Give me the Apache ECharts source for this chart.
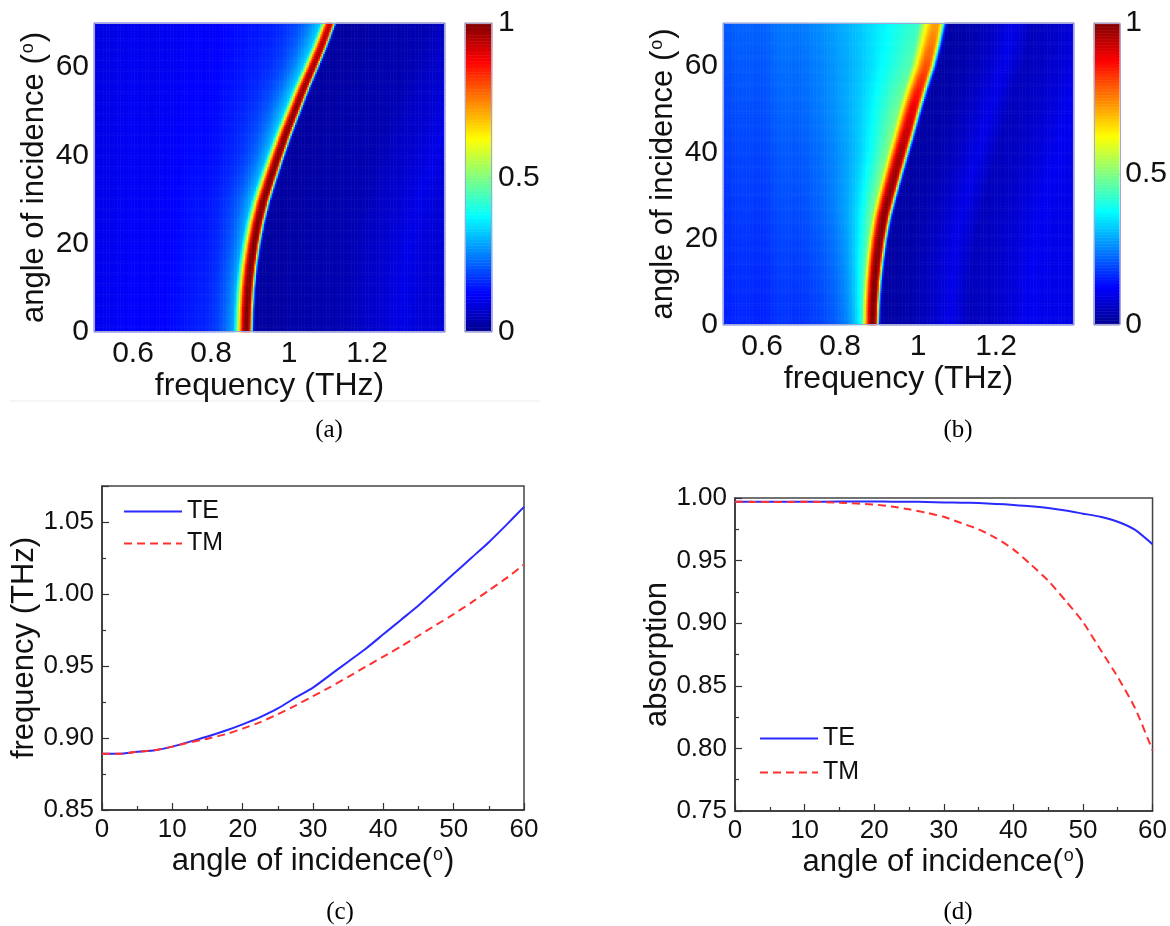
<!DOCTYPE html>
<html><head><meta charset="utf-8">
<script src="https://cdn.jsdelivr.net/npm/echarts@6/dist/echarts.min.js"></script>
<style>html,body{margin:0;padding:0;background:#fff}#c{width:1170px;height:926px}</style>
</head><body><div id="c"></div>
<script>
// ---------------- data ----------------
// (c) resonance frequency vs angle
const anglesFreq = [0,2.5,5,7.5,10,12.5,15,17.5,20,22.5,25,27.5,30,32.5,35,37.5,40,42.5,45,47.5,50,52.5,55,57.5,60];
const freqTE = [0.889,0.889,0.8905,0.8915,0.894,0.8975,0.901,0.905,0.9095,0.9145,0.9205,0.928,0.935,0.944,0.953,0.962,0.972,0.982,0.992,1.003,1.014,1.025,1.036,1.048,1.0605];
const freqTM = [0.889,0.889,0.8905,0.8915,0.894,0.897,0.8995,0.9025,0.9065,0.911,0.9165,0.9225,0.929,0.9355,0.9425,0.9495,0.9565,0.9635,0.971,0.9785,0.986,0.994,1.0025,1.011,1.0205];
// (d) peak absorption vs angle
const anglesAbs = [0,5,10,15,20,22.5,25,27.5,30,32.5,35,37.5,40,42.5,45,47.5,50,52.5,55,57.5,60];
const absTE = [0.997,0.997,0.997,0.9972,0.9972,0.9971,0.997,0.9968,0.9965,0.9963,0.996,0.9953,0.9945,0.9935,0.992,0.990,0.9875,0.985,0.981,0.9745,0.963];
const absTM = [0.997,0.9968,0.997,0.9963,0.9948,0.9932,0.991,0.9882,0.985,0.980,0.975,0.968,0.959,0.947,0.934,0.918,0.901,0.879,0.857,0.832,0.7985];

const angles5 = [0,5,10,15,20,25,30,35,40,45,50,55,60,65,70];
const peakTE = [0.89,0.8915,0.895,0.901,0.9095,0.9205,0.935,0.953,0.972,0.992,1.014,1.036,1.0605,1.084,1.105];
const peakTM = [0.883,0.8845,0.888,0.8935,0.901,0.911,0.925,0.94,0.9555,0.971,0.986,1.0025,1.0205,1.034,1.045];
const angles10 = [0,10,20,30,40,50,60,70];
const ampTE = [1.0,1.0,1.0,0.998,0.995,0.988,0.963,0.93];
const ampTM = [1.0,1.0,0.995,0.985,0.96,0.9,0.8,0.72];
const coreLeftTE = [0.024,0.024,0.024,0.024,0.023,0.022,0.021,0.02];
const coreLeftTM = [0.024,0.025,0.027,0.03,0.033,0.036,0.04,0.045];
const coreRightTE = [0.0163,0.0163,0.016,0.016,0.0155,0.015,0.0145,0.014];
const coreRightTM = [0.016,0.017,0.018,0.019,0.02,0.021,0.022,0.024];
const wingWidthTE = [0.04,0.04,0.04,0.045,0.045,0.05,0.05,0.055];
const wingWidthTM = [0.03,0.035,0.045,0.06,0.075,0.1,0.13,0.17];
const wingAmpTE = [0.3,0.3,0.3,0.3,0.3,0.3,0.3,0.3];
const wingAmpTM = [0.5,0.5,0.48,0.47,0.45,0.44,0.43,0.42];
const bgFreq = [0.5,0.55,0.6,0.65,0.7,0.75,0.8,0.85,0.9,0.95,1.0,1.05,1.1,1.15,1.2,1.25,1.3,1.35,1.4];
const bgLeftTE = [0.105,0.11,0.12,0.115,0.12,0.13,0.125,0.135,0.14,0.14,0.14,0.14,0.14,0.14,0.14,0.14,0.14,0.14,0.14];
const bgLeftTM = [0.15,0.16,0.15,0.17,0.16,0.17,0.18,0.19,0.2,0.2,0.2,0.2,0.2,0.2,0.2,0.2,0.2,0.2,0.2];
const bgOffset = [0,0.05,0.1,0.15,0.2,0.25,0.3,0.35,0.4,0.45,0.5];
const bgRightTE = [0.02,0.02,0.025,0.03,0.035,0.04,0.06,0.075,0.1,0.08,0.08];
const bgRightTM = [0.025,0.025,0.035,0.06,0.1,0.05,0.06,0.08,0.11,0.1,0.1];

// axis tick labels
const freqTicks = [0.6,0.8,1,1.2];
const angleTicks = [0,20,40,60];
const cbarTicks = [0,0.5,1];
const jet = ['#00008f','#0000ff','#0080ff','#00ffff','#80ff80','#ffff00','#ff8000','#ff0000','#800000'];

// ---------------- build heat grids ----------------
const fMin = 0.5, fMax = 1.4, nF = 225, nA = 140, aMax = 70;
const dF = (fMax - fMin) / nF, dA = aMax / nA;
function interp(xs, ys, x) {
  if (x <= xs[0]) return ys[0];
  for (let k = 1; k < xs.length; k++) {
    if (x <= xs[k]) { const t = (x - xs[k-1]) / (xs[k] - xs[k-1]); return ys[k-1] + t * (ys[k] - ys[k-1]); }
  }
  return ys[ys.length - 1];
}
const fCats = [], aCats = [];
for (let i = 0; i < nF; i++) fCats.push((fMin + (i + 0.5) * dF).toFixed(4));
for (let j = 0; j < nA; j++) aCats.push(((j + 0.5) * dA).toFixed(2));
function buildHeat(p, gain) {
  const out = [];
  for (let j = 0; j < nA; j++) {
    const th = (j + 0.5) * dA;
    const f0 = interp(angles5, p.peak, th), A = interp(angles10, p.amp, th);
    const cL = interp(angles10, p.cL, th), cR = interp(angles10, p.cR, th);
    const wW = interp(angles10, p.wW, th), k = interp(angles10, p.wA, th);
    for (let i = 0; i < nF; i++) {
      const f = fMin + (i + 0.5) * dF, d = f - f0;
      let v;
      if (d < 0) {
        const b = interp(bgFreq, p.bgL, f) + gain * th / aMax;
        const s = Math.max(Math.exp(-(d / cL) * (d / cL)), k / (1 + (d / wW) * (d / wW)));
        v = b + (A - b) * s;
      } else {
        const b = interp(bgOffset, p.bgR, d);
        const x = d / cR;
        v = b + (A - b) * Math.exp(-x * x * x * x);
      }
      out.push([i, j, v]);
    }
  }
  return out;
}
const heatA = buildHeat({peak: peakTE, amp: ampTE, cL: coreLeftTE, cR: coreRightTE, wW: wingWidthTE, wA: wingAmpTE, bgL: bgLeftTE, bgR: bgRightTE}, -0.015);
const heatB = buildHeat({peak: peakTM, amp: ampTM, cL: coreLeftTM, cR: coreRightTM, wW: wingWidthTM, wA: wingAmpTM, bgL: bgLeftTM, bgR: bgRightTM}, 0.04);
const nC = 200, cCats = [], cbar = [];
for (let k = 0; k < nC; k++) { cCats.push(String(k)); cbar.push([0, k, (k + 0.5) / nC]); }

// ---------------- layout ----------------
const L = {
  a: {left: 94, top: 23, width: 351, height: 309},
  ca: {left: 465, top: 23, width: 27, height: 309},
  b: {left: 723, top: 23, width: 351, height: 302},
  cb: {left: 1094, top: 23, width: 27, height: 302},
  c: {left: 102, top: 486, width: 422, height: 324},
  d: {left: 735, top: 498, width: 425, height: 313}
};
const SANS = '"Liberation Sans", Arial, sans-serif';
const SERIF = '"Liberation Serif", "Times New Roman", serif';
const deg = {s: {fontSize: 18, fontFamily: SANS, color: '#111', verticalAlign: 'top', padding: [0, 1, 0, 1]}};

function hidden(grid, data) {
  return {type: 'category', gridIndex: grid, data: data, show: false, boundaryGap: true};
}
function heatX(grid, nameGap) {
  return {type: 'value', gridIndex: grid, position: 'bottom', min: fMin, max: fMax,
    axisLine: {show: false}, axisTick: {show: false}, splitLine: {show: false},
    axisLabel: {customValues: freqTicks, fontSize: 30, fontFamily: SANS, color: '#111', margin: 7},
    name: 'frequency (THz)', nameLocation: 'middle', nameGap: nameGap,
    nameTextStyle: {fontSize: 32, fontFamily: SANS, color: '#111'}};
}
function heatY(grid, nameGap) {
  return {type: 'value', gridIndex: grid, position: 'left', min: 0, max: aMax,
    axisLine: {show: false}, axisTick: {show: false}, splitLine: {show: false},
    axisLabel: {customValues: angleTicks, fontSize: 30, fontFamily: SANS, color: '#111', margin: 5},
    name: 'angle of incidence ({s|o})', nameLocation: 'middle', nameGap: nameGap,
    nameTextStyle: {fontSize: 31, fontFamily: SANS, color: '#111', rich: deg}};
}
function cbarY(grid) {
  return {type: 'value', gridIndex: grid, position: 'right', min: 0, max: 1,
    axisLine: {show: false}, axisTick: {show: true, inside: true, length: 4, customValues: [0.5], lineStyle: {color: '#333'}},
    splitLine: {show: false},
    axisLabel: {customValues: cbarTicks, fontSize: 30, fontFamily: SANS, color: '#111', margin: 6}};
}
function lineX(grid) {
  return {type: 'value', gridIndex: grid, min: 0, max: 60, interval: 10,
    axisLine: {lineStyle: {color: '#333', width: 1.5}},
    axisTick: {inside: true, length: 7, lineStyle: {color: '#333', width: 1.2}},
    minorTick: {show: true, splitNumber: 2, length: 4, lineStyle: {color: '#333', width: 1.2}},
    splitLine: {show: false},
    axisLabel: {fontSize: 26, fontFamily: SANS, color: '#111', margin: 7},
    name: 'angle of incidence({s|o})', nameLocation: 'middle', nameGap: 36,
    nameTextStyle: {fontSize: 31, fontFamily: SANS, color: '#111', rich: deg}};
}
function lineY(grid, min, max, name, gap) {
  return {type: 'value', gridIndex: grid, min: min, max: max, interval: 0.05,
    axisLine: {lineStyle: {color: '#333', width: 1.5}},
    axisTick: {inside: true, length: 7, lineStyle: {color: '#333', width: 1.2}},
    minorTick: {show: true, splitNumber: 2, length: 4, lineStyle: {color: '#333', width: 1.2}},
    splitLine: {show: false},
    axisLabel: {fontSize: 26, fontFamily: SANS, color: '#111', margin: 8, showMaxLabel: max === 1.0,
      formatter: v => v.toFixed(2)},
    name: name, nameLocation: 'middle', nameGap: gap,
    nameTextStyle: {fontSize: 31, fontFamily: SANS, color: '#111'}};
}
function pairs(xs, ys) { return xs.map((x, i) => [x, ys[i]]); }
function frame(r, color, w) {
  return {type: 'rect', z: 100, silent: true, shape: {x: r.left + 0.5, y: r.top + 0.5, width: r.width - 1, height: r.height - 1},
    style: {fill: null, stroke: color, lineWidth: w}};
}
function caption(txt, x, y) {
  return {type: 'text', x: x, y: y, silent: true, style: {text: txt, font: '25px ' + SERIF, fill: '#000', align: 'center', verticalAlign: 'middle'}};
}

const teStyle = {color: '#2a2aff', width: 2};
const tmStyle = {color: '#ff3030', width: 2, type: [8, 5]};
function lineSeries(name, xi, yi, data, style) {
  return {type: 'line', name: name, xAxisIndex: xi, yAxisIndex: yi, data: data, symbol: 'none',
    smooth: 0.2, lineStyle: style, itemStyle: {color: style.color}, silent: true};
}
function legendAt(left, top, gap) {
  return {left: left, top: top, itemGap: gap, orient: 'vertical', itemWidth: 58, itemHeight: 14,
    data: ['TE', 'TM'], selectedMode: false, itemStyle: {opacity: 0},
    textStyle: {fontSize: 25, fontFamily: SANS, color: '#111'}};
}

const option = {
  animation: false,
  backgroundColor: '#ffffff',
  grid: [
    Object.assign({show: false}, L.a),
    Object.assign({show: false}, L.ca),
    Object.assign({show: false}, L.b),
    Object.assign({show: false}, L.cb),
    Object.assign({show: true, borderColor: '#444', borderWidth: 1.5, backgroundColor: '#fff'}, L.c),
    Object.assign({show: true, borderColor: '#444', borderWidth: 1.5, backgroundColor: '#fff'}, L.d)
  ],
  xAxis: [
    hidden(0, fCats),      // 0
    heatX(0, 36),          // 1
    hidden(1, ['c']),      // 2
    hidden(2, fCats),      // 3
    heatX(2, 33),          // 4
    hidden(3, ['c']),      // 5
    lineX(4),              // 6
    lineX(5)               // 7
  ],
  yAxis: [
    hidden(0, aCats),      // 0
    heatY(0, 44),          // 1
    hidden(1, cCats),      // 2
    cbarY(1),              // 3
    hidden(2, aCats),      // 4
    heatY(2, 44),          // 5
    hidden(3, cCats),      // 6
    cbarY(3),              // 7
    lineY(4, 0.85, 1.075, 'frequency (THz)', 58),  // 8
    lineY(5, 0.75, 1.0, 'absorption', 62)           // 9
  ],
  visualMap: {type: 'continuous', show: false, min: 0, max: 1, dimension: 2,
    seriesIndex: [0, 1, 2, 3], inRange: {color: jet}},
  legend: [legendAt(118, 494, 7), legendAt(754, 721, 9)],
  series: [
    {type: 'heatmap', xAxisIndex: 0, yAxisIndex: 0, data: heatA, progressive: 0, silent: true},
    {type: 'heatmap', xAxisIndex: 2, yAxisIndex: 2, data: cbar, progressive: 0, silent: true},
    {type: 'heatmap', xAxisIndex: 3, yAxisIndex: 4, data: heatB, progressive: 0, silent: true},
    {type: 'heatmap', xAxisIndex: 5, yAxisIndex: 6, data: cbar, progressive: 0, silent: true},
    lineSeries('TE', 6, 8, pairs(anglesFreq, freqTE), teStyle),
    lineSeries('TM', 6, 8, pairs(anglesFreq, freqTM), tmStyle),
    lineSeries('TE', 7, 9, pairs(anglesAbs, absTE), teStyle),
    lineSeries('TM', 7, 9, pairs(anglesAbs, absTM), tmStyle)
  ],
  graphic: [
    frame(L.a, '#a4a6d6', 1), frame(L.ca, '#a4a6d6', 1), frame(L.b, '#a4a6d6', 1), frame(L.cb, '#a4a6d6', 1),
    {type: 'line', silent: true, shape: {x1: 10, y1: 401, x2: 540, y2: 401}, style: {stroke: '#ececec', lineWidth: 1}},
    caption('(a)', 329, 430), caption('(b)', 958, 430), caption('(c)', 340, 912), caption('(d)', 958, 912)
  ]
};
const chart = echarts.init(document.getElementById('c'), null, {renderer: 'canvas'});
chart.setOption(option);
</script></body></html>
